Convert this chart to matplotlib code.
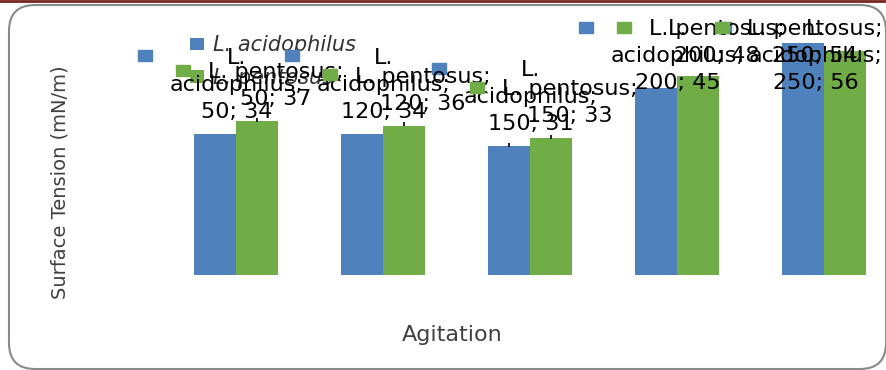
import numpy as np
import matplotlib
matplotlib.use("Agg")
import matplotlib.pyplot as plt
from matplotlib.patches import Rectangle, FancyBboxPatch
from matplotlib.transforms import IdentityTransform
from matplotlib.lines import Line2D

# --- data -------------------------------------------------------------
agitation = [50, 120, 150, 200, 250]
acidophilus = [34, 34, 31, 45, 56]
pentosus = [37, 36, 33, 48, 54]
series_names = ["L. acidophilus", "L. pentosus"]
label_heads = [["L.", "acidophilus;"], ["L. pentosus;"]]
leader_shown = [[False, False, True, False, False],
                [True, True, True, False, False]]
x_title = "Agitation"
y_title = "Surface Tension (mN/m)"

# --- figure -----------------------------------------------------------
W, H, DPI = 887, 370, 100
BLUE, GREEN = "#4f81bd", "#70ad47"
TITLE_GRAY = "#404040"

fig = plt.figure(figsize=(W / DPI, H / DPI), dpi=DPI)
fig.patch.set_facecolor("white")
px = IdentityTransform()

# rounded chart frame and the thin dark-red rule above it
fig.add_artist(FancyBboxPatch((9, 1), 877, 364,
                              boxstyle="round,pad=0,rounding_size=26",
                              transform=px, fill=False,
                              edgecolor="#8a8a8a", linewidth=1.5, zorder=1))
fig.add_artist(Line2D([0, W], [H - 1, H - 1], transform=px,
                      color="#7b2323", linewidth=2.0, zorder=2))

# plot area
ax = fig.add_axes([163 / W, 95 / H, (W - 163) / W, 265 / H])
ax.set_xlim(-0.5, -0.5 + (W - 163) / 147)
ax.set_ylim(0, 265 / 4.15)
ax.axis("off")

xpos = np.arange(len(agitation))
bw = 42 / 147
b1 = ax.bar(xpos - bw / 2, acidophilus, bw, color=BLUE, label=series_names[0])
b2 = ax.bar(xpos + bw / 2, pentosus, bw, color=GREEN, label=series_names[1])

# tiny leader ticks at some bar tops
for offs, vals, shown in ((-bw / 2, acidophilus, leader_shown[0]),
                          (bw / 2, pentosus, leader_shown[1])):
    for i, v in enumerate(vals):
        if shown[i]:
            ax.plot(xpos[i] + offs, v + 0.35, marker="|", markersize=3,
                    color="black", markeredgewidth=1.2, clip_on=False)

leg = ax.legend(handles=[b1, b2], loc="upper left",
                bbox_to_anchor=(190, H - 35), bbox_transform=px,
                frameon=False, prop=dict(family="DejaVu Sans", style="italic", size=15),
                labelcolor="#333333", handlelength=0.68, handleheight=0.52,
                handletextpad=0.42, labelspacing=0.62, borderpad=0,
                borderaxespad=0)

# axis titles
fig.text(60, H - 182, y_title, transform=px, rotation=90, ha="center",
         va="center", family="DejaVu Sans", size=14, color=TITLE_GRAY)
fig.text(452, H - 335, x_title, transform=px, ha="center", va="center",
         family="DejaVu Sans", size=16, color=TITLE_GRAY)

# --- data labels (series name; category; value) with legend keys --------
fig.canvas.draw()
renderer = fig.canvas.get_renderer()
label_font = dict(family="DejaVu Sans", size=16, color="black")


def place_label(xc, val, cat, heads, dx, color, z):
    cx, ty_disp = ax.transData.transform((xc, val))
    ty = H - ty_disp
    lines = heads + [f"{cat}; {val}"]
    n = len(lines)
    baselines = [ty - 16 - 27 * (n - 1 - i) for i in range(n)]
    shift_down = max(0.0, 35 - baselines[0])
    baselines = [b + shift_down for b in baselines]
    tc = cx + dx
    texts = [fig.text(tc, H - b, s, transform=px, ha="center", va="baseline",
                      zorder=z, **label_font)
             for s, b in zip(lines, baselines)]
    half = max(t.get_window_extent(renderer).width for t in texts) / 2
    shift_left = max(0.0, tc + half - 883)
    for t in texts:
        t.set_x(tc - shift_left)
    kx = tc - shift_left - half - 25
    ky = baselines[0] - 8
    fig.add_artist(Rectangle((kx - 7, H - ky - 5.5), 14, 11, transform=px,
                             color=color, zorder=z))


z = 10
for i, cat in enumerate(agitation):
    place_label(xpos[i] - bw / 2, acidophilus[i], cat, label_heads[0], 21, BLUE, z)
    z += 1
for i, cat in enumerate(agitation):
    place_label(xpos[i] + bw / 2, pentosus[i], cat, label_heads[1], 18, GREEN, z)
    z += 1

fig.savefig("out.png", dpi=DPI, facecolor="white")
